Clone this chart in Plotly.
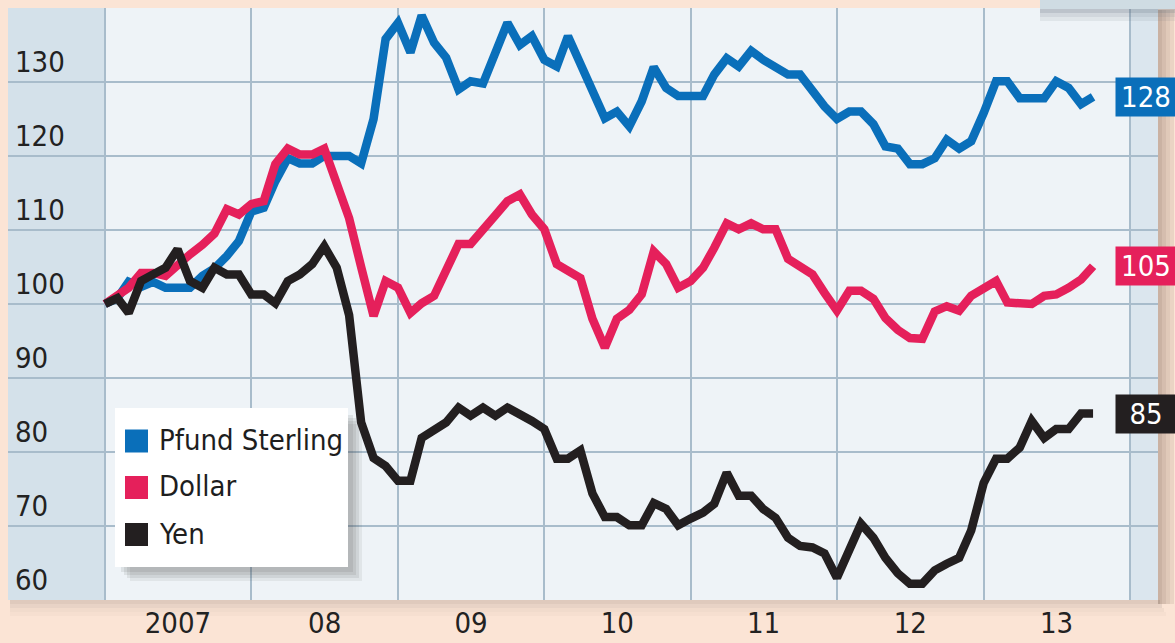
import pandas as pd
import plotly.graph_objects as go

# ---------------- data ----------------
months = pd.date_range("2007-01-01", periods=82, freq="MS")

pfund = [100, 100.8, 103, 102.3, 103, 102.2, 102.2, 102.2, 103.8, 104.8, 106.5, 108.5,
         112.5, 113, 116.6, 119.7, 119, 119, 120, 120, 120, 119, 125, 135.8,
         138, 134, 139, 135.3, 133.3, 129, 130.1, 129.8, 134, 138, 135, 136.2,
         133, 132.1, 136.2, 132.5, 129.2, 125.1, 126, 124, 127.4, 132, 129.2, 128.1,
         128.1, 128.1, 131, 133.2, 132.1, 134.2, 133, 132.1, 131, 131, 128.7, 126.7,
         125, 126, 126, 124.3, 121.3, 121, 118.9, 118.9, 119.7, 122.2, 121, 122,
         125.8, 130.1, 130.1, 127.8, 127.8, 127.8, 130.1, 129.2, 127, 128]

dollar = [100, 101, 102.2, 104.2, 104.2, 103.8, 105.4, 106.7, 108, 109.5, 112.8, 112.1,
          113.5, 113.9, 118.9, 121, 120.2, 120.2, 121, 116, 111.6, 105, 98.4, 103.1,
          102.2, 98.8, 100.1, 101.1, 104.5, 108.1, 108.1, 109.9, 112, 113.9, 114.8, 112.1,
          110.1, 105.4, 104.5, 103.5, 98, 94.1, 98, 99.2, 101.3, 107.1, 105.4, 102.2,
          103.1, 104.9, 107.6, 110.9, 110.1, 110.9, 110.1, 110.1, 106.1, 105.1, 104, 101.5,
          99.1, 101.8, 101.8, 100.7, 98.1, 96.5, 95.4, 95.3, 99, 99.7, 99.1, 101.1,
          102.2, 103.1, 100.2, 100, 100, 101.1, 101.3, 102.2, 103.3, 105.1]

yen = [100, 100.8, 98.8, 103.1, 104, 104.9, 107.4, 103.1, 102.2, 104.9, 104, 104,
       101.3, 101.3, 100.1, 103.1, 104, 105.4, 107.8, 104.9, 98.5, 84, 79.2, 78.1,
       76.1, 76.1, 81.9, 83.1, 84, 86, 84.9, 86, 84.9, 86, 85.2, 84.2,
       83.1, 79.1, 79.1, 80.2, 74.4, 71.2, 71.2, 70.1, 70.1, 73.1, 72.3, 70.1,
       71, 71.8, 73, 77.2, 74.1, 74.1, 72.3, 71.1, 68.4, 67.3, 67.1, 66.3,
       63, 66.7, 70.3, 68.4, 65.7, 63.6, 62.2, 62.2, 64, 64.9, 65.7, 69.4,
       75.8, 79.1, 79.1, 80.6, 84.2, 81.9, 83.1, 83.1, 85.2, 85.2]

series_names = ["Pfund Sterling", "Dollar", "Yen"]
series_values = [pfund, dollar, yen]
end_labels = ["128", "105", "85"]
colors = ["#0a6fba", "#e5205b", "#231f20"]

year_starts = pd.date_range("2007-01-01", periods=8, freq="YS")
year_mids = [pd.Timestamp(f"{y}-07-02") for y in range(2007, 2014)]
year_labels = ["2007", "08", "09", "10", "11", "12", "13"]

y_ticks = [60, 70, 80, 90, 100, 110, 120, 130, 140]
y_ticktext = ["60", "70", "80", "90", "100", "110", "120", "130", ""]

# ---------------- layout helpers ----------------
FW, FH = 1175, 643
L, R, T, B = 8, 17, 8, 43
PW, PH = FW - L - R, FH - T - B


def px(x):
    return (x - L) / PW


def py(y):
    return (FH - B - y) / PH


FONT = "DejaVu Sans Condensed, Liberation Sans Narrow, Liberation Sans, sans-serif"
FS = 29

fig = go.Figure()
for name, vals, col in zip(series_names, series_values, colors):
    fig.add_trace(go.Scatter(x=months, y=vals, mode="lines", name=name,
                             line=dict(color=col, width=8.5), showlegend=False,
                             hoverinfo="skip"))

shapes = []
# left and right bands
shapes.append(dict(type="rect", xref="x", yref="paper", x0="2006-04-01", x1="2007-01-01",
                   y0=0, y1=1, fillcolor="#d4e1ea", line_width=0, layer="below"))
shapes.append(dict(type="rect", xref="x", yref="paper", x0="2014-01-01", x1="2014-06-01",
                   y0=0, y1=1, fillcolor="#dbe6ee", line_width=0, layer="below"))
# 100 line
shapes.append(dict(type="line", xref="paper", yref="y", x0=0, x1=1, y0=100, y1=100,
                   line=dict(color="#1a1a1a", width=2), layer="between"))

# bottom shadow of plot
for i, op in enumerate([0.22, 0.14, 0.08, 0.04]):
    shapes.append(dict(type="rect", xref="paper", yref="paper", x0=px(10), x1=px(1160 + 2 * i),
                       y0=py(600 + 4 * (i + 1)), y1=py(600 + 4 * i),
                       fillcolor="#7a6f6a", opacity=op, line_width=0, layer="below"))
# right frame shadow
for i, op in enumerate([0.45, 0.35, 0.25, 0.15]):
    shapes.append(dict(type="rect", xref="paper", yref="paper", x0=px(1158 + 4 * i), x1=px(1162 + 4 * i),
                       y0=py(604), y1=py(10), fillcolor="#8f7667", opacity=op,
                       line_width=0, layer="below"))

# top-right header box with shadow
for i, op in enumerate([0.35, 0.2, 0.1]):
    shapes.append(dict(type="rect", xref="paper", yref="paper", x0=px(1040), x1=px(1175),
                       y0=py(9 + 4 * (i + 1)), y1=py(9 + 4 * i),
                       fillcolor="#5f6a78", opacity=op, line_width=0, layer="above"))
shapes.append(dict(type="rect", xref="paper", yref="paper", x0=px(1040), x1=px(1176),
                   y0=py(9), y1=py(-2), fillcolor="#cfdce3", line_width=0, layer="above"))

# legend box with shadow
for i, op in enumerate([0.10, 0.10, 0.10, 0.08]):
    d = 3 * (i + 1)
    shapes.append(dict(type="rect", xref="paper", yref="paper", x0=px(118 + d), x1=px(350 + d),
                       y0=py(569 + d), y1=py(412 + d), fillcolor="#404040", opacity=op,
                       line_width=0, layer="above"))
shapes.append(dict(type="rect", xref="paper", yref="paper", x0=px(115), x1=px(348),
                   y0=py(567), y1=py(408), fillcolor="#ffffff", line_width=0, layer="above"))

annotations = []
leg_centers = [441, 487.5, 534.5]
for name, col, cy in zip(series_names, colors, leg_centers):
    shapes.append(dict(type="rect", xref="paper", yref="paper", x0=px(125), x1=px(148),
                       y0=py(cy + 11.5), y1=py(cy - 11.5), fillcolor=col, line_width=0,
                       layer="above"))
    annotations.append(dict(xref="paper", yref="paper", x=px(157), y=py(cy - 1), text=name,
                            showarrow=False, xanchor="left", yanchor="middle",
                            font=dict(family=FONT, size=FS, color="#1e1e1e")))

# end labels
for lab, col, vals in zip(end_labels, colors, series_values):
    annotations.append(dict(xref="paper", yref="y", x=px(1115), y=vals[-1], text=lab,
                            showarrow=False, xanchor="left", yanchor="middle",
                            bgcolor=col, width=56, height=34, borderpad=2,
                            font=dict(family=FONT, size=FS, color="#ffffff")))

fig.update_layout(
    width=FW, height=FH,
    margin=dict(l=L, r=R, t=T, b=B, autoexpand=False),
    paper_bgcolor="#fbe4d5",
    plot_bgcolor="#eef3f7",
    shapes=shapes,
    annotations=annotations,
    showlegend=False,
    xaxis=dict(
        type="date",
        automargin=False,
        range=["2006-05-04", "2014-03-12"],
        tickvals=year_mids, ticktext=year_labels,
        showgrid=False, ticks="", zeroline=False, showline=False,
        ticklabelstandoff=3,
        tickfont=dict(family=FONT, size=FS, color="#222222"),
        minor=dict(tickvals=list(year_starts), showgrid=True, gridcolor="#a8bccb", gridwidth=2),
    ),
    yaxis=dict(
        automargin=False,
        range=[60, 140],
        tickvals=y_ticks, ticktext=y_ticktext,
        showgrid=True, gridcolor="#a8bccb", gridwidth=2,
        ticks="", zeroline=False, showline=False,
        ticklabelposition="inside",
        ticklabelshift=-20,
        ticklabelstandoff=4,
        tickfont=dict(family=FONT, size=FS, color="#222222"),
    ),
)

fig.write_html("out.html")
